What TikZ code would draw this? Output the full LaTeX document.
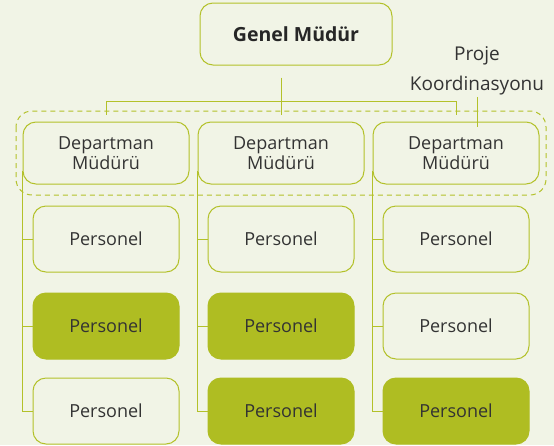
\documentclass[tikz,border=0pt]{standalone}
\usepackage{fontspec}
\setmainfont{Open Sans}
\definecolor{bgc}{HTML}{F1F4E6}
\definecolor{linec}{HTML}{B3C12A}
\definecolor{fillc}{HTML}{AFBD22}
\definecolor{txtc}{HTML}{333333}
\begin{document}
\begin{tikzpicture}[x=1pt, y=-1pt,
		box/.style = {draw=linec, line width=1pt, rounded corners=13pt, align=center, text=txtc, font=\fontsize{18}{20}\selectfont, inner sep=0pt},
		dept/.style = {box, minimum width=166pt, minimum height=62pt},
		pers/.style = {box, minimum width=146pt, minimum height=66pt},
		persf/.style = {pers, fill=fillc, draw=fillc},
		conn/.style = {draw=linec, line width=1pt}]
		\fill[bgc] (0,0) rectangle (554,445);
		\useasboundingbox (0,0) rectangle (554,445);
		\node[box, minimum width=192pt, minimum height=62pt, text=black!85, font=\fontsize{19.5}{20}\selectfont\bfseries] (head) at (296,34) {Genel Müdür};
		\node[text=txtc, align=center, font=\fontsize{19}{30}\selectfont] (proje) at (477,71) {Proje\\Koordinasyonu};
		\node[dept] (d1) at (106,153) {Departman\\Müdürü};
		\node[dept] (d2) at (281,153) {Departman\\Müdürü};
		\node[dept] (d3) at (456,153) {Departman\\Müdürü};
		\draw[draw=linec, line width=1pt, dash pattern=on 5pt off 4pt, rounded corners=16pt] (16,111) rectangle (546,195);
		\node[pers] (p11) at (106,239) {Personel};
		\node[persf] (p12) at (106,326) {Personel};
		\node[pers] (p13) at (106,411) {Personel};
		\node[pers] (p21) at (281,239) {Personel};
		\node[persf] (p22) at (281,326) {Personel};
		\node[persf] (p23) at (281,411) {Personel};
		\node[pers] (p31) at (456,239) {Personel};
		\node[pers] (p32) at (456,326) {Personel};
		\node[persf] (p33) at (456,411) {Personel};
		\coordinate (hl) at (0,101);
		\draw[conn] ([yshift=-12pt]head.south -| d2.north) -- ([yshift=7pt]d2.north);
		\draw[conn] ([yshift=7pt]d1.north) |- (hl -| d3.north) -- ([yshift=7pt]d3.north);
		\draw[conn] ([yshift=2pt]proje.south) -- ([yshift=-5pt]d3.north -| proje.south);
		\foreach \c in {1,2,3}{
			\draw[conn] ([yshift=14pt]d\c.south west) |- (p\c3.west);
			\draw[conn] (d\c.south west |- p\c1.west) -- (p\c1.west);
			\draw[conn] (d\c.south west |- p\c2.west) -- (p\c2.west);
		}
	\end{tikzpicture}
\end{document}
